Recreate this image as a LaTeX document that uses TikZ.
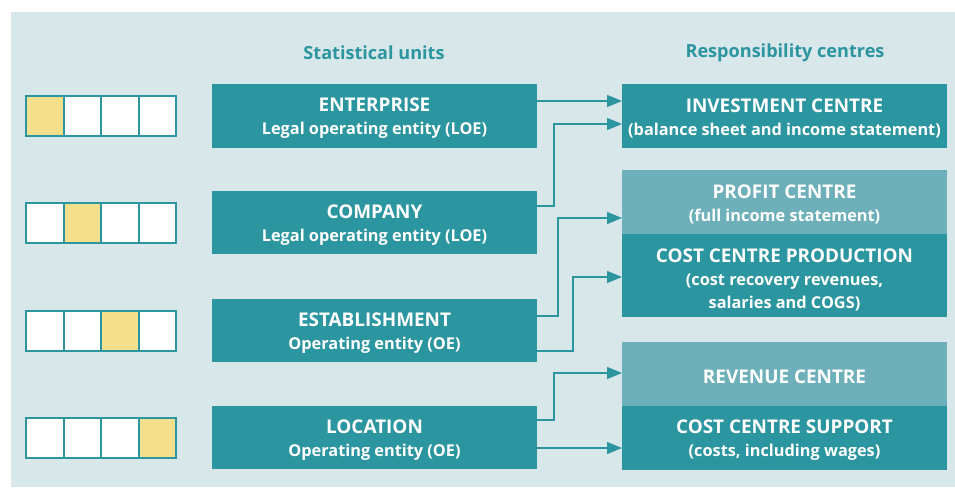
\documentclass[tikz,border=0pt]{standalone}
\usepackage{fontspec}
\setmainfont{Open Sans}
\usetikzlibrary{arrows.meta}
\definecolor{teal1}{HTML}{2B95A0}
\definecolor{teal2}{HTML}{6EB0B9}
\definecolor{bgc}{HTML}{D8E7EA}
\definecolor{yel}{HTML}{F4E08C}
\newcommand{\ttl}[1]{{\fontsize{18.9}{23}\selectfont #1}}
\tikzset{
  x=1pt, y=-1pt,
  btxt/.style={text=white, font=\bfseries\fontsize{16.3}{23}\selectfont, align=center, inner sep=0pt, yshift=-2.5pt},
  box/.style={fill=teal1, inner sep=0pt, outer sep=0pt, anchor=north west, minimum width=325pt},
  lbox/.style={box, fill=teal2},
  sq/.style={draw=teal1, line width=2pt, fill=white, minimum width=37.5pt, minimum height=40pt, inner sep=0pt, outer sep=0pt},
  ysq/.style={sq, fill=yel},
  arr/.style={draw=teal1, line width=1.4pt, -{Triangle[length=15pt,width=12pt]}},
  hdr/.style={text=teal1, font=\bfseries\fontsize{18.1}{20}\selectfont}
}
\begin{document}
\begin{tikzpicture}
\useasboundingbox (0,0) rectangle (955,487);
\fill[white] (0,0) rectangle (955,487);
\fill[bgc] (11,12) rectangle (955,487);

\node[hdr] (h1) at (374,53) {Statistical units};
\node[hdr] (h2) at (785,53) {Responsibility centres};

% squares
\foreach \r/\y/\k in {1/116/1,2/223/2,3/331/3,4/438/4}{
  \foreach \c in {1,2,3,4}{
    \ifnum\c=\k
      \node[ysq] (s\r\c) at ({26+37.5*(\c-0.5)},\y) {};
    \else
      \node[sq] (s\r\c) at ({26+37.5*(\c-0.5)},\y) {};
    \fi
  }
}

% left boxes
\node[box, minimum height=64pt, label={[btxt]center:{\ttl{ENTERPRISE}\\Legal operating entity (LOE)}}] (ent) at (212,84) {};
\node[box, minimum height=63pt, label={[btxt]center:{\ttl{COMPANY}\\Legal operating entity (LOE)}}] (com) at (212,191) {};
\node[box, minimum height=63pt, label={[btxt]center:{\ttl{ESTABLISHMENT}\\Operating entity (OE)}}] (est) at (212,299) {};
\node[box, minimum height=63pt, label={[btxt]center:{\ttl{LOCATION}\\Operating entity (OE)}}] (loc) at (212,406) {};

% right boxes
\node[box, minimum height=64pt, label={[btxt]center:{\ttl{INVESTMENT CENTRE}\\(balance sheet and income statement)}}] (inv) at (622,84) {};
\node[lbox, minimum height=64pt, label={[btxt]center:{\ttl{PROFIT CENTRE}\\(full income statement)}}] (pro) at (622,170) {};
\node[box, minimum height=83pt, label={[btxt, yshift=-2pt]center:{\ttl{COST CENTRE PRODUCTION}\\(cost recovery revenues,\\salaries and COGS)}}] (ccp) at (622,234) {};
\node[lbox, minimum height=64pt, label={[btxt]center:{\ttl{REVENUE CENTRE}}}] (rev) at (622,342) {};
\node[box, minimum height=64pt, label={[btxt]center:{\ttl{COST CENTRE SUPPORT}\\(costs, including wages)}}] (ccs) at (622,406) {};

% connectors
\draw[arr] (ent.east |- 0,101) -- (inv.west |- 0,101);
\draw[arr] (com.east |- 0,206) -| (554,124) -- (inv.west |- 0,124);
\draw[arr] (est.east |- 0,316) -| (558,218) -- (pro.west |- 0,218);
\draw[arr] (est.east |- 0,351) -| (573,277) -- (ccp.west |- 0,277);
\draw[arr] (loc.east |- 0,420) -| (554,373) -- (rev.west |- 0,373);
\draw[arr] (loc.east |- 0,448) -- (ccs.west |- 0,448);
\end{tikzpicture}
\end{document}
